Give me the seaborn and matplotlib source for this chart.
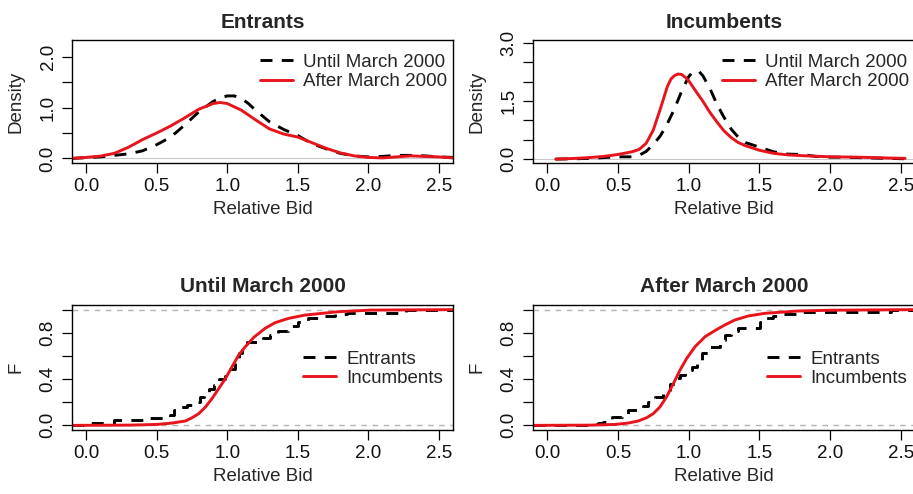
import numpy as np
import pandas as pd
import matplotlib
matplotlib.use("Agg")
import matplotlib.pyplot as plt
import seaborn as sns

# ---------------- data ----------------
# Top-left: Entrants, kernel densities of relative bid
ent_until_x = [-0.1, 0.0, 0.1, 0.2, 0.3, 0.4, 0.5, 0.6, 0.7, 0.8, 0.9, 0.95, 1.0, 1.05, 1.1,
               1.15, 1.2, 1.3, 1.4, 1.5, 1.6, 1.7, 1.8, 1.9, 2.0, 2.1, 2.2, 2.3, 2.4, 2.5, 2.6]
ent_until_d = [0.0, 0.015, 0.03, 0.06, 0.09, 0.15, 0.27, 0.42, 0.66, 0.92, 1.12, 1.19, 1.23, 1.23, 1.18,
               1.08, 0.95, 0.72, 0.57, 0.45, 0.29, 0.19, 0.10, 0.05, 0.03, 0.04, 0.06, 0.06, 0.05, 0.03, 0.02]
ent_after_x = [-0.1, 0.0, 0.1, 0.2, 0.3, 0.4, 0.5, 0.6, 0.7, 0.8, 0.9, 0.95, 1.0, 1.1, 1.2,
               1.3, 1.4, 1.5, 1.6, 1.7, 1.8, 1.9, 2.0, 2.1, 2.2, 2.3, 2.4, 2.5, 2.6]
ent_after_d = [0.0, 0.02, 0.045, 0.10, 0.22, 0.37, 0.50, 0.64, 0.80, 0.97, 1.08, 1.10, 1.08, 0.95, 0.76,
               0.58, 0.48, 0.42, 0.31, 0.20, 0.11, 0.05, 0.02, 0.01, 0.03, 0.05, 0.04, 0.03, 0.01]

# Top-right: Incumbents
inc_until_x = [0.06, 0.2, 0.3, 0.4, 0.5, 0.6, 0.65, 0.7, 0.75, 0.8, 0.85, 0.9, 0.95, 1.0, 1.025, 1.05,
               1.075, 1.1, 1.15, 1.2, 1.25, 1.3, 1.35, 1.4, 1.5, 1.6, 1.7, 1.8, 1.9, 2.0, 2.1, 2.2,
               2.3, 2.4, 2.53]
inc_until_d = [0.0, 0.01, 0.02, 0.04, 0.06, 0.06, 0.10, 0.20, 0.38, 0.60, 0.92, 1.30, 1.75, 2.13, 2.24, 2.28,
               2.26, 2.16, 1.83, 1.42, 1.08, 0.78, 0.57, 0.43, 0.31, 0.19, 0.13, 0.12, 0.07, 0.05, 0.05, 0.04,
               0.03, 0.02, 0.01]
inc_after_x = [0.06, 0.2, 0.3, 0.4, 0.5, 0.6, 0.65, 0.7, 0.75, 0.8, 0.85, 0.875, 0.9, 0.925, 0.95, 0.975,
               1.0, 1.05, 1.1, 1.15, 1.2, 1.25, 1.3, 1.35, 1.4, 1.5, 1.6, 1.7, 1.8, 2.0, 2.2, 2.4, 2.53]
inc_after_d = [0.0, 0.02, 0.04, 0.07, 0.12, 0.19, 0.25, 0.41, 0.75, 1.30, 1.88, 2.07, 2.16, 2.20, 2.19, 2.12,
               2.03, 1.76, 1.50, 1.21, 0.96, 0.73, 0.56, 0.43, 0.35, 0.23, 0.15, 0.11, 0.09, 0.06, 0.05,
               0.03, 0.02]

# Bottom-left: Until March 2000, empirical CDFs
until_ent_x = [-0.1, 0.03, 0.20, 0.40, 0.597, 0.62, 0.656, 0.715, 0.763, 0.81, 0.833, 0.869, 0.904, 0.94,
               0.987, 1.022, 1.058, 1.081, 1.105, 1.14, 1.256, 1.303, 1.362, 1.433, 1.504, 1.574, 1.669,
               1.763, 1.85, 2.27, 2.6]
until_ent_F = [0.0, 0.02, 0.049, 0.066, 0.086, 0.13, 0.159, 0.175, 0.202, 0.246, 0.289, 0.31, 0.347, 0.404,
               0.425, 0.491, 0.549, 0.621, 0.679, 0.717, 0.751, 0.78, 0.817, 0.858, 0.895, 0.924, 0.945,
               0.962, 0.974, 1.0, 1.0]
until_inc_x = [-0.1, 0.3, 0.5, 0.609, 0.704, 0.751, 0.798, 0.846, 0.892, 0.94, 0.987, 1.034, 1.081, 1.128,
               1.188, 1.268, 1.339, 1.433, 1.551, 1.787, 2.02, 2.6]
until_inc_F = [0.0, 0.002, 0.008, 0.02, 0.038, 0.066, 0.101, 0.159, 0.231, 0.318, 0.404, 0.506, 0.607, 0.679,
               0.76, 0.838, 0.887, 0.924, 0.953, 0.982, 0.996, 1.0]

# Bottom-right: After March 2000
after_ent_x = [-0.1, 0.2, 0.30, 0.36, 0.396, 0.455, 0.526, 0.573, 0.644, 0.679, 0.714, 0.762, 0.82, 0.868,
               0.903, 0.939, 0.974, 1.021, 1.057, 1.092, 1.14, 1.22, 1.255, 1.302, 1.35, 1.503, 1.538,
               1.597, 1.656, 1.785, 2.43, 2.6]
after_ent_F = [0.0, 0.005, 0.012, 0.02, 0.029, 0.072, 0.101, 0.13, 0.153, 0.165, 0.202, 0.246, 0.303, 0.361,
               0.413, 0.433, 0.477, 0.506, 0.563, 0.621, 0.679, 0.737, 0.78, 0.817, 0.838, 0.895, 0.924,
               0.945, 0.962, 0.982, 1.0, 1.0]
after_inc_x = [-0.1, 0.3, 0.479, 0.573, 0.644, 0.703, 0.75, 0.797, 0.844, 0.892, 0.939, 0.986, 1.045, 1.116,
               1.187, 1.255, 1.326, 1.42, 1.538, 1.774, 2.01, 2.6]
after_inc_F = [0.0, 0.002, 0.008, 0.02, 0.038, 0.066, 0.101, 0.159, 0.246, 0.361, 0.477, 0.578, 0.679, 0.766,
               0.82, 0.867, 0.91, 0.945, 0.968, 0.988, 0.995, 1.0]

x_ticks = [0.0, 0.5, 1.0, 1.5, 2.0, 2.5]
x_labels = ["0.0", "0.5", "1.0", "1.5", "2.0", "2.5"]
ent_y_ticks = [0.0, 0.5, 1.0, 1.5, 2.0]
ent_y_labels = ["0.0", "", "1.0", "", "2.0"]
inc_y_ticks = [0.0, 0.5, 1.0, 1.5, 2.0, 2.5, 3.0]
inc_y_labels = ["0.0", "", "", "1.5", "", "", "3.0"]
F_y_ticks = [0.0, 0.2, 0.4, 0.6, 0.8, 1.0]
F_y_labels = ["0.0", "", "0.4", "", "0.8", ""]

period_labels = ["Until March 2000", "After March 2000"]
group_labels = ["Entrants", "Incumbents"]

# ---------------- style ----------------
sns.set_theme(style="white")
plt.rcParams['font.family'] = ['Liberation Sans', 'DejaVu Sans']
plt.rcParams['axes.edgecolor'] = 'black'
plt.rcParams['axes.linewidth'] = 1.0

RED = '#e8141c'
DASH = (0, (4.1, 3.2))
LW = 2.1
FS = 13.5

W, H = 913, 494
fig = plt.figure(figsize=(W / 100, H / 100), dpi=100)


def add_ax(l, t, r, b):
    return fig.add_axes([l / W, 1 - b / H, (r - l) / W, (b - t) / H])


def style(ax, title, ylabel, yticks, ylabels, ylim):
    ax.set_xlim(-0.1, 2.6)
    ax.set_ylim(*ylim)
    ax.set_xticks(x_ticks, x_labels)
    ax.set_yticks(yticks, ylabels, rotation=90, va='center')
    ax.tick_params(axis='both', direction='out', length=7, width=0.9, color='black',
                   labelsize=FS, labelcolor='#111111', left=True, bottom=True)
    ax.tick_params(axis='x', pad=4)
    ax.tick_params(axis='y', pad=4)
    ax.set_title(title, fontsize=15, fontweight='bold', pad=9)
    ax.set_xlabel('Relative Bid', fontsize=FS, labelpad=4)
    ax.set_ylabel(ylabel, fontsize=FS)
    ax.yaxis.set_label_coords(-0.125, 0.5)
    for s in ax.spines.values():
        s.set_visible(True)
        s.set_color('black')
        s.set_linewidth(1.0)


def legend(ax, x, y):
    ax.legend(loc='center left', bbox_to_anchor=(x, y), frameon=False, fontsize=FS,
              handlelength=1.76, handletextpad=0.55, labelspacing=0.12,
              borderpad=0, borderaxespad=0)


# ---- top-left: Entrants densities
ax1 = add_ax(72, 40, 453, 163)
ax1.axhline(0, color='#c8c8c8', lw=0.8, zorder=0)
sns.lineplot(x=ent_until_x, y=ent_until_d, ax=ax1, color='black', lw=LW, linestyle=DASH,
             estimator=None, sort=False, label=period_labels[0])
sns.lineplot(x=ent_after_x, y=ent_after_d, ax=ax1, color=RED, lw=LW,
             estimator=None, sort=False, label=period_labels[1])
style(ax1, group_labels[0], 'Density', ent_y_ticks, ent_y_labels, (-0.09, 2.33))
legend(ax1, 0.493, 0.74)

# ---- top-right: Incumbents densities
ax2 = add_ax(533, 40, 915, 163)
ax2.axhline(0, color='#c8c8c8', lw=0.8, zorder=0)
sns.lineplot(x=inc_until_x, y=inc_until_d, ax=ax2, color='black', lw=LW, linestyle=DASH,
             estimator=None, sort=False, label=period_labels[0])
sns.lineplot(x=inc_after_x, y=inc_after_d, ax=ax2, color=RED, lw=LW,
             estimator=None, sort=False, label=period_labels[1])
style(ax2, group_labels[1], 'Density', inc_y_ticks, inc_y_labels, (-0.10, 3.08))
legend(ax2, 0.495, 0.74)

# ---- bottom-left: Until March 2000 ECDFs
ax3 = add_ax(72, 305, 453, 430)
for h in (0.0, 1.0):
    ax3.axhline(h, color='#b3b3b3', lw=1.0, linestyle=(0, (4, 4)), zorder=0)
sns.lineplot(x=until_ent_x, y=until_ent_F, ax=ax3, color='black', lw=LW, linestyle=DASH,
             drawstyle='steps-post', estimator=None, sort=False, label=group_labels[0])
sns.lineplot(x=until_inc_x, y=until_inc_F, ax=ax3, color=RED, lw=LW,
             estimator=None, sort=False, label=group_labels[1])
style(ax3, period_labels[0], 'F', F_y_ticks, F_y_labels, (-0.04, 1.04))
legend(ax3, 0.606, 0.49)

# ---- bottom-right: After March 2000 ECDFs
ax4 = add_ax(533, 305, 915, 430)
for h in (0.0, 1.0):
    ax4.axhline(h, color='#b3b3b3', lw=1.0, linestyle=(0, (4, 4)), zorder=0)
sns.lineplot(x=after_ent_x, y=after_ent_F, ax=ax4, color='black', lw=LW, linestyle=DASH,
             drawstyle='steps-post', estimator=None, sort=False, label=group_labels[0])
sns.lineplot(x=after_inc_x, y=after_inc_F, ax=ax4, color=RED, lw=LW,
             estimator=None, sort=False, label=group_labels[1])
style(ax4, period_labels[1], 'F', F_y_ticks, F_y_labels, (-0.04, 1.04))
legend(ax4, 0.612, 0.49)

fig.savefig('out.png', dpi=100)
